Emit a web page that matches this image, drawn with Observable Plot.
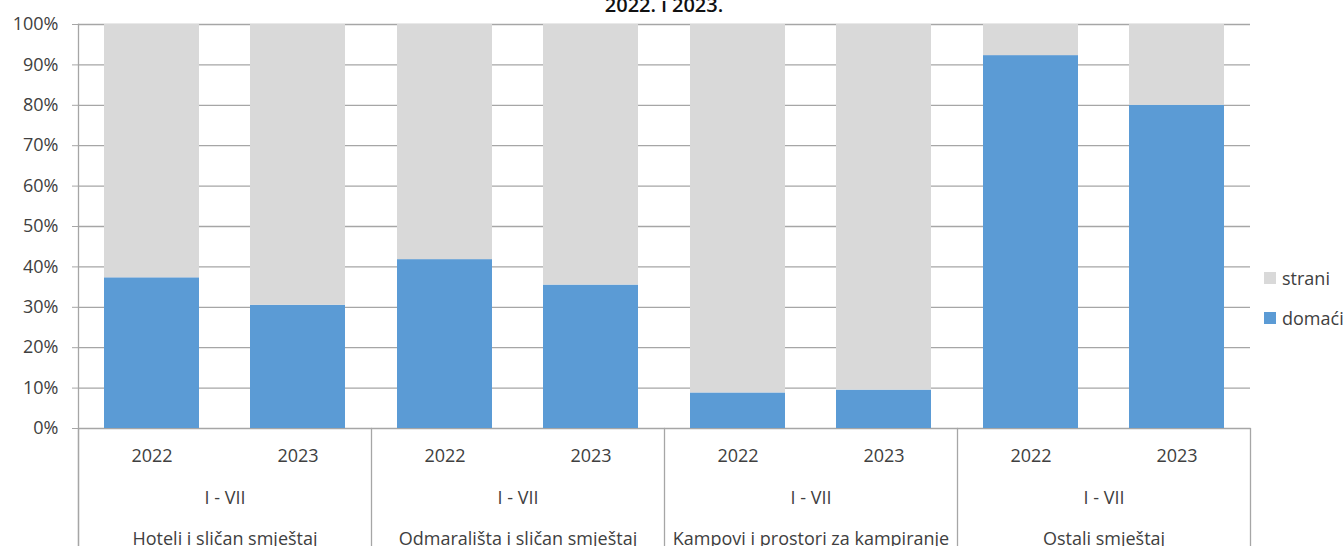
<!DOCTYPE html>
<html>
<head>
<meta charset="utf-8">
<script src="https://cdn.jsdelivr.net/npm/d3@7"></script>
<script src="https://cdn.jsdelivr.net/npm/@observablehq/plot@0.6"></script>
<style>
  html, body { margin: 0; padding: 0; background: #fff; }
  #wrap { position: relative; width: 1344px; height: 546px; overflow: hidden; font-family: "Open Sans", sans-serif; color: #404040; }
  #title { position: absolute; left: 0; width: 1328px; top: -5px; text-align: center; font-size: 20px; line-height: 20px; font-weight: 600; color: #111; }
  #legend { position: absolute; left: 1264px; top: 266px; font-size: 18px; }
  .lg-item { display: flex; align-items: center; height: 24px; margin-bottom: 16px; }
  .lg-sw { width: 12px; height: 12px; margin-right: 6px; flex: none; }
</style>
</head>
<body>
<div id="wrap">
  <div id="chart"></div>
  <div id="title"></div>
  <div id="legend"></div>
</div>
<script>
// ---- data ----
const titleText = "2022. i 2023.";
const groups = ["Hoteli i sličan smještaj", "Odmarališta i sličan smještaj", "Kampovi i prostori za kampiranje", "Ostali smještaj"];
const periods = ["I - VII", "I - VII", "I - VII", "I - VII"];
const years = ["2022", "2023"];
const series = ["strani", "domaći"];
const colors = ["#d9d9d9", "#5b9bd5"];
// shares (%) per bar: group order, then year order
const domaci = [37.3, 30.5, 41.8, 35.5, 8.8, 9.5, 92.3, 80.0];
const strani = [62.7, 69.5, 58.2, 64.5, 91.2, 90.5, 7.7, 20.0];
const yTicks = [0, 10, 20, 30, 40, 50, 60, 70, 80, 90, 100];

// ---- layout ----
const W = 1344, H = 546;
const mt = 24, mb = 118, ml = 78, mr = 94;
const plotH = H - mt - mb;
const lineColor = "#a6a6a6";

const bars = [];
groups.forEach((g, gi) => years.forEach((y, yi) => bars.push({group: g, year: y, i: gi * years.length + yi})));
const rows = [];
bars.forEach(b => {
  rows.push({group: b.group, year: b.year, series: "domaći", value: domaci[b.i]});
  rows.push({group: b.group, year: b.year, series: "strani", value: strani[b.i]});
});

const chart = Plot.plot({
  width: W, height: H,
  marginTop: mt, marginBottom: mb, marginLeft: ml, marginRight: mr,
  style: {fontFamily: "'Open Sans', sans-serif", fontSize: "18px", color: "#404040", background: "white"},
  fx: {domain: groups, padding: 0, axis: null},
  x: {domain: years, paddingInner: 0.35, paddingOuter: 0.175, axis: null},
  y: {domain: [0, 100], axis: null},
  color: {domain: series, range: colors},
  marks: [
    Plot.gridY(yTicks, {stroke: lineColor, strokeOpacity: 1, strokeWidth: 1.3}),
    Plot.barY(rows, {fx: "group", x: "year", y: "value", fill: "series"}),
    Plot.axisY(yTicks, {tickFormat: d => d + "%", tickSize: 6, tickPadding: 14, stroke: lineColor, strokeOpacity: 1, label: null, fontSize: 18}),
    Plot.frame({anchor: "left", facetAnchor: "left", insetBottom: -mb, stroke: lineColor, strokeWidth: 1.3}),
    Plot.frame({anchor: "left", insetTop: plotH, insetBottom: -mb, stroke: lineColor, strokeWidth: 1.3}),
    Plot.frame({anchor: "right", facetAnchor: "right", insetTop: plotH, insetBottom: -mb, stroke: lineColor, strokeWidth: 1.3}),
    Plot.text(bars, {fx: "group", x: "year", text: "year", frameAnchor: "bottom", dy: 33}),
    Plot.text(groups, {fx: d => d, text: (d, i) => periods[i], frameAnchor: "bottom", dy: 75}),
    Plot.text(groups, {fx: d => d, text: d => d, frameAnchor: "bottom", dy: 116})
  ]
});
document.getElementById("chart").appendChild(chart);

document.getElementById("title").textContent = titleText;

const lg = d3.select("#legend");
series.forEach((s, i) => {
  const item = lg.append("div").attr("class", "lg-item");
  item.append("div").attr("class", "lg-sw").style("background", colors[i]);
  item.append("span").text(s);
});
</script>
</body>
</html>
